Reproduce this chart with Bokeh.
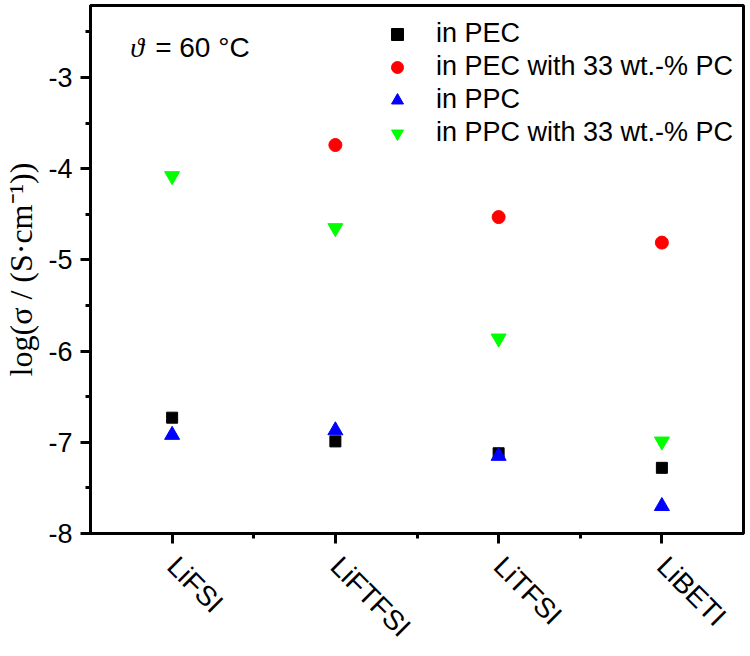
import math
from bokeh.plotting import figure
from bokeh.models import FixedTicker, Label, Legend, LegendItem, Range1d
from bokeh.embed import file_html
from bokeh.resources import INLINE

salts = ["LiFSI", "LiFTFSI", "LiTFSI", "LiBETI"]
x_pos = [1, 2, 3, 4]

pec = [-6.73, -6.99, -7.12, -7.28]
pec_pc_x = [2, 3, 4]
pec_pc = [-3.74, -4.53, -4.81]
ppc = [-6.92, -6.87, -7.15, -7.70]
ppc_pc = [-4.08, -4.65, -5.86, -6.99]

y_ticks = [-8, -7, -6, -5, -4, -3]
y_tick_labels = ["-8", "-7", "-6", "-5", "-4", "-3"]
y_minor = [-7.5, -6.5, -5.5, -4.5, -3.5, -2.5]

p = figure(width=746, height=656, output_backend="svg", toolbar_location=None,
           x_range=Range1d(0.5, 4.5), y_range=Range1d(-8, -2.21),
           min_border_left=87, min_border_right=3, min_border_top=5, min_border_bottom=117)
p.background_fill_color = "white"
p.border_fill_color = "white"
p.grid.visible = False
p.outline_line_color = "black"
p.outline_line_width = 3

r1 = p.scatter(x_pos, pec, marker="square", size=11, fill_color="black", line_color="black")
r2 = p.scatter(pec_pc_x, pec_pc, marker="circle", size=13, fill_color="#ff0000", line_color="#ff0000")
r3 = p.scatter(x_pos, ppc, marker="triangle", size=15, fill_color="#0000ff", line_color="#0000ff")
r4 = p.scatter(x_pos, ppc_pc, marker="inverted_triangle", size=15, fill_color="#00ff00", line_color="#00ff00")

for ax in (p.xaxis[0], p.yaxis[0]):
    ax.axis_line_width = 3
    ax.axis_line_color = "black"
    ax.major_tick_line_width = 3
    ax.minor_tick_line_width = 3
    ax.major_tick_in = 0
    ax.major_tick_out = 10
    ax.minor_tick_in = 0
    ax.minor_tick_out = 5
    ax.major_label_text_font = "Liberation Sans"
    ax.major_label_text_font_size = "27px"
    ax.major_label_text_color = "black"

p.xaxis.ticker = FixedTicker(ticks=x_pos, minor_ticks=[1.5, 2.5, 3.5])
p.xaxis.major_label_overrides = {x: s for x, s in zip(x_pos, salts)}
p.xaxis.major_label_orientation = -math.pi / 4
p.xaxis.major_label_text_font_size = "28px"
p.xaxis.major_label_standoff = 18

p.yaxis.ticker = FixedTicker(ticks=y_ticks, minor_ticks=y_minor)
p.yaxis.major_label_overrides = {t: s for t, s in zip(y_ticks, y_tick_labels)}
p.yaxis.major_label_standoff = 8
p.yaxis.axis_label = "log(σ / (S·cm⁻¹))"
p.yaxis.axis_label_text_font = "Liberation Serif"
p.yaxis.axis_label_text_font_style = "normal"
p.yaxis.axis_label_text_font_size = "32px"
p.yaxis.axis_label_text_color = "black"
p.yaxis.axis_label_standoff = 6

legend = Legend(items=[
    LegendItem(label="in PEC", renderers=[r1]),
    LegendItem(label="in PEC with 33 wt.-% PC", renderers=[r2]),
    LegendItem(label="in PPC", renderers=[r3]),
    LegendItem(label="in PPC with 33 wt.-% PC", renderers=[r4]),
], location=(292, 385))
legend.border_line_color = None
legend.background_fill_alpha = 0
legend.label_text_font = "Liberation Sans"
legend.label_text_font_size = "27px"
legend.label_text_color = "black"
legend.glyph_width = 30
legend.glyph_height = 30
legend.label_height = 30
legend.spacing = 2
legend.label_standoff = 24
legend.padding = 2
legend.margin = 0
p.add_layout(legend)

p.add_layout(Label(x=0.744, y=-2.67, text="ϑ", text_font="Liberation Serif",
                   text_font_style="italic", text_font_size="28px", text_baseline="middle",
                   text_color="black"))
p.add_layout(Label(x=0.896, y=-2.67, text="= 60 °C", text_font="Liberation Sans",
                   text_font_size="28px", text_baseline="middle", text_color="black"))

open("out.html", "w").write(file_html(p, INLINE))
